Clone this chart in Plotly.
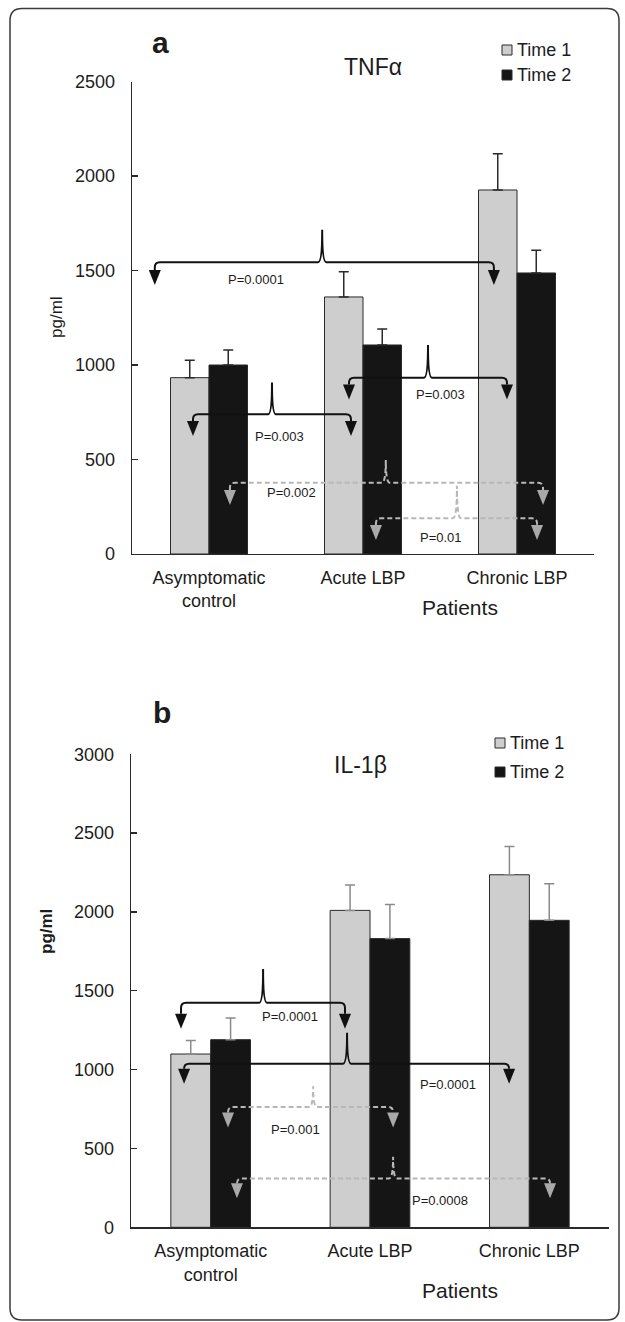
import plotly.graph_objects as go

W, H = 625, 1322
FONT = "Liberation Sans, Arial, sans-serif"
TXT = "#1c1c1c"

# ---------------- data ----------------
categories = ["Asymptomatic<br>control", "Acute LBP", "Chronic LBP"]
series_names = ["Time 1", "Time 2"]

tnf_time1 = [933, 1360, 1926]
tnf_time1_err = [92, 134, 192]
tnf_time2 = [1000, 1106, 1487]
tnf_time2_err = [79, 84, 120]

il1b_time1 = [1099, 2010, 2236]
il1b_time1_err = [86, 161, 179]
il1b_time2 = [1190, 1831, 1947]
il1b_time2_err = [137, 217, 232]

tnf_yticks = [0, 500, 1000, 1500, 2000, 2500]
il1b_yticks = [0, 500, 1000, 1500, 2000, 2500, 3000]

# comparisons: left arrow x, right arrow x, brace point x, line y, point top y, arrow tip y,
# label, label x, label y, significance style
tnf_comparisons = [
    [-0.352, 1.85, 0.735, 1544, 1715, 1423, "P=0.0001", 0.305, 1455, "solid"],
    [-0.104, 0.922, 0.409, 739, 908, 624, "P=0.003", 0.455, 624, "solid"],
    [0.909, 1.935, 1.422, 933, 1106, 818, "P=0.003", 1.506, 845, "solid"],
    [0.136, 2.169, 1.148, 377, 497, 259, "P=0.002", 0.535, 323, "dash"],
    [1.084, 2.13, 1.61, 189, 361, 74, "P=0.01", 1.506, 88, "dash"],
]
il1b_comparisons = [
    [-0.186, 0.843, 0.329, 1424, 1639, 1259, "P=0.0001", 0.498, 1337, "solid"],
    [-0.167, 1.873, 0.856, 1038, 1234, 911, "P=0.0001", 1.49, 905, "solid"],
    [0.109, 1.145, 0.643, 763, 894, 633, "P=0.001", 0.53, 622, "dash"],
    [0.165, 2.13, 1.145, 310, 447, 184, "P=0.0008", 1.44, 173, "dash"],
]

# ---------------- layout geometry (pixels) ----------------
panels = [
    dict(name="a", title="TNFα", t1=tnf_time1, e1=tnf_time1_err, t2=tnf_time2, e2=tnf_time2_err,
         yticks=tnf_yticks, comps=tnf_comparisons, x0=132, x1=594, ybot=554, ytop=81.5,
         err_color="#2a2a2a", letter=(160, 43), title_xy=(373, 67),
         legend_xy=(507, 50, 75), ylab_xy=(56, 317), ylab_bold=False,
         patients_y=607),
    dict(name="b", title="IL-1β", t1=il1b_time1, e1=il1b_time1_err, t2=il1b_time2, e2=il1b_time2_err,
         yticks=il1b_yticks, comps=il1b_comparisons, x0=131, x1=609, ybot=1227.3, ytop=754.3,
         err_color="#8a8a8a", letter=(162, 712), title_xy=(360, 765),
         legend_xy=(500, 743, 772), ylab_xy=(46, 932), ylab_bold=True,
         patients_y=1290),
]

GRAY = "#cdcecd"
BLACK = "#151515"
DASH_GRAY = "#b8b8b8"
ARROW_GRAY = "#a9a9a9"


def px(x):
    return x / W


def py(y):
    return 1 - y / H


fig = go.Figure()
shapes = []
annotations = []


def add_text(x, y, text, size, xref="paper", yref="paper", xanchor="center", angle=0):
    annotations.append(dict(x=x, y=y, xref=xref, yref=yref, text=text, showarrow=False,
                            xanchor=xanchor, yanchor="middle", textangle=angle,
                            font=dict(family=FONT, size=size, color=TXT)))


for i, p in enumerate(panels):
    sfx = "" if i == 0 else str(i + 1)
    xa, ya = "x" + sfx, "y" + sfx
    ymax = p["yticks"][-1]
    xs = list(range(len(categories)))
    for name, vals, errs, color in [("Time 1", p["t1"], p["e1"], GRAY), ("Time 2", p["t2"], p["e2"], BLACK)]:
        fig.add_trace(go.Bar(
            x=xs, y=vals, name=name, xaxis=xa, yaxis=ya, showlegend=False, hoverinfo="skip",
            marker=dict(color=color, line=dict(color="#2a2a2a", width=1)),
            error_y=dict(type="data", symmetric=False, array=errs, arrayminus=[0] * len(errs),
                         color=p["err_color"], thickness=1.5, width=5),
        ))

    fig.update_layout(**{
        "xaxis" + sfx: dict(
            domain=[px(p["x0"]), px(p["x1"])], range=[-0.5, 2.5], anchor=ya,
            tickvals=xs, ticktext=categories, ticks="", showgrid=False, zeroline=False,
            showline=True, linecolor="#2a2a2a", linewidth=1.3,
            tickfont=dict(family=FONT, size=18, color=TXT), ticklabelstandoff=7,
            automargin=False,
        ),
        "yaxis" + sfx: dict(
            domain=[py(p["ybot"]), py(p["ytop"])], range=[0, ymax], anchor=xa,
            tickvals=p["yticks"], ticks="inside", ticklen=6, tickcolor="#2a2a2a", tickwidth=1.3,
            showgrid=False, zeroline=False, showline=True, linecolor="#2a2a2a", linewidth=1.3,
            tickfont=dict(family=FONT, size=18, color=TXT), ticklabelstandoff=12,
            automargin=False,
        ),
    })

    # data units per pixel
    ux = 3.0 / (p["x1"] - p["x0"])
    uy = ymax / (p["ybot"] - p["ytop"])

    for c in p["comps"]:
        xL, xR, xsP, yl, ysP, yt, lab, lx, ly, style = c
        r, th, w = 5, 15, 4
        base = yt + th * uy
        path = (f"M{xL},{base} L{xL},{yl - r * uy} Q{xL},{yl} {xL + r * ux},{yl} "
                f"L{xsP - w * ux},{yl} Q{xsP},{yl} {xsP},{ysP} Q{xsP},{yl} {xsP + w * ux},{yl} "
                f"L{xR - r * ux},{yl} Q{xR},{yl} {xR},{yl - r * uy} L{xR},{base}")
        if style == "solid":
            lc, ac, dash = "#111111", "#111111", "solid"
        else:
            lc, ac, dash = DASH_GRAY, ARROW_GRAY, "5px,3px"
        shapes.append(dict(type="path", xref=xa, yref=ya, path=path,
                           line=dict(color=lc, width=2, dash=dash)))
        for xa_tip in (xL, xR):
            shapes.append(dict(type="path", xref=xa, yref=ya, xsizemode="pixel", ysizemode="pixel",
                               xanchor=xa_tip, yanchor=yt, path="M-6,15 L6,15 L0,0 Z",
                               fillcolor=ac, line=dict(width=0)))
        add_text(lx, ly, lab, 13, xref=xa, yref=ya)

    # panel letter, title
    add_text(px(p["letter"][0]), py(p["letter"][1]), "<b>" + p["name"] + "</b>", 30)
    add_text(px(p["title_xy"][0]), py(p["title_xy"][1]), p["title"], 23)
    # legend
    lx0, ly1, ly2 = p["legend_xy"]
    for nm, col, yy in [("Time 1", GRAY, ly1), ("Time 2", BLACK, ly2)]:
        shapes.append(dict(type="rect", xref="paper", yref="paper",
                           x0=px(lx0 - 5), x1=px(lx0 + 5), y0=py(yy + 5), y1=py(yy - 5),
                           fillcolor=col, line=dict(color="#2a2a2a", width=1)))
        add_text(px(lx0 + 8), py(yy), nm, 18, xanchor="left")
    # y title
    yl_text = "<b>pg/ml</b>" if p["ylab_bold"] else "pg/ml"
    add_text(px(p["ylab_xy"][0]), py(p["ylab_xy"][1]), yl_text, 17, angle=-90)
    # x title
    add_text(px(460), py(p["patients_y"]), "Patients", 21)

# outer rounded border
bx0, by0, bx1, by1, rr = 10, 8.5, 619, 1320, 12
rx, ry = rr / W, rr / H
X0, X1, Y0, Y1 = px(bx0), px(bx1), py(by0), py(by1)
border = (f"M{X0 + rx},{Y0} L{X1 - rx},{Y0} Q{X1},{Y0} {X1},{Y0 - ry} L{X1},{Y1 + ry} "
          f"Q{X1},{Y1} {X1 - rx},{Y1} L{X0 + rx},{Y1} Q{X0},{Y1} {X0},{Y1 + ry} "
          f"L{X0},{Y0 - ry} Q{X0},{Y0} {X0 + rx},{Y0} Z")
shapes.append(dict(type="path", xref="paper", yref="paper", path=border,
                   line=dict(color="#3a3a3a", width=1.5)))

fig.update_layout(
    width=W, height=H, autosize=False,
    margin=dict(l=0, r=0, t=0, b=0, pad=0),
    paper_bgcolor="white", plot_bgcolor="white",
    barmode="group", bargap=0.5, bargroupgap=0,
    shapes=shapes, annotations=annotations,
    showlegend=False, hovermode=False,
    font=dict(family=FONT, color=TXT),
)

fig.write_html(
    "out.html",
    config={"displayModeBar": False, "staticPlot": True},
    post_script="document.body.style.margin='0';document.body.style.padding='0';"
                "document.body.style.overflow='hidden';",
)
